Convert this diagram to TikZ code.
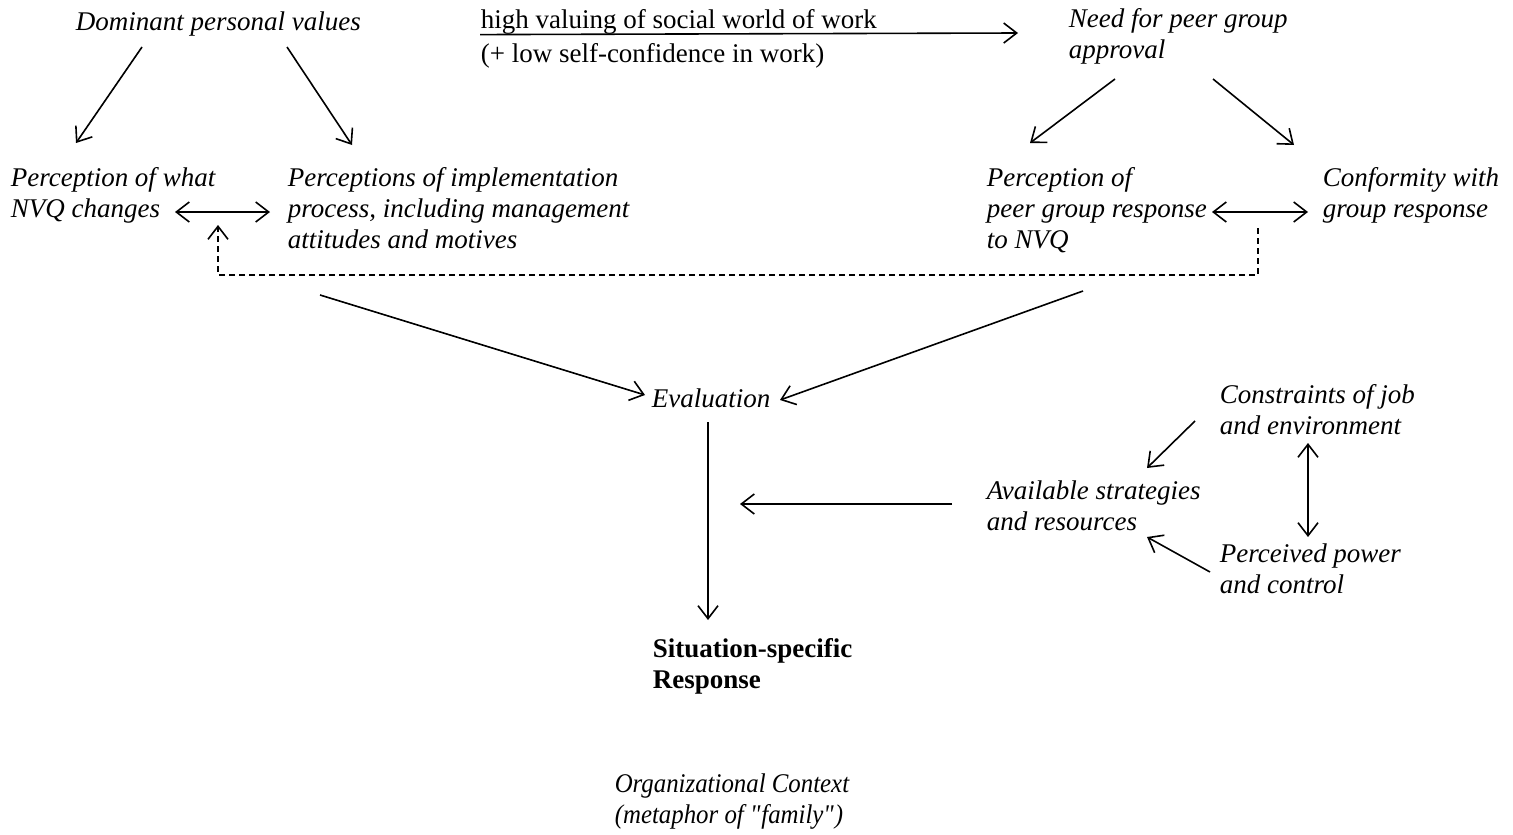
\documentclass[tikz,border=0pt]{standalone}
\usepackage{fontspec}
\setmainfont{Liberation Serif}
\usetikzlibrary{arrows.meta,calc}

\tikzset{every picture/.style={line width=1.6pt}}

\begin{document}
\begin{tikzpicture}[x=1pt,y=1pt,yscale=-1,
  >={Straight Barb[length=13pt,width=20pt]},
  txt/.style={anchor=north west,inner sep=0pt,align=left,
    font=\fontsize{27}{31}\selectfont,execute at begin node=\strut},
  itxt/.style={txt,font=\fontsize{27}{31}\selectfont\itshape},
  btxt/.style={txt,font=\fontsize{27}{31}\selectfont\bfseries},
  dashline/.style={dash pattern=on 6pt off 4pt}]
\useasboundingbox (0,0) rectangle (1513,835);
% Text Node top row
\node[itxt] (dom) at (75,8) {Dominant personal values};
\node[txt] (hv) at (480,6) {high valuing of social world of work};
\node[txt] (lc) at (480,40) {(+ low self-confidence in work)};
\node[itxt] (need) at (1068,8) {Need for peer group\\approval};
% Text Node perceptions
\node[itxt] (what) at (10,167) {Perception of what\\NVQ changes};
\node[itxt] (impl) at (287,167) {Perceptions of implementation\\process, including management\\attitudes and motives};
\node[itxt] (peer) at (986,167) {Perception of\\peer group response\\to NVQ};
\node[itxt] (conf) at (1322,167) {Conformity with\\group response};
% Text Node middle
\node[itxt] (eval) at (651,385) {Evaluation};
\node[itxt] (cons) at (1219,384) {Constraints of job\\and environment};
\node[itxt] (avail) at (986,480) {Available strategies\\and resources};
\node[itxt] (power) at (1219,543) {Perceived power\\and control};
% Text Node bottom
\node[btxt] (resp) at (652,638) {Situation-specific\\Response};
\node[itxt] (org) at (614,773) {\addfontfeature{FakeStretch=0.92}Organizational Context\\
  \addfontfeature{FakeStretch=0.92}(metaphor of \textquotedbl family\textquotedbl)};

%Arrow underlining the social world of work
\draw[->] ($(hv.south west)+(0,-4)$) -- ($(need.north west)+(-50,25)$);
%Arrows from values
\draw[->] ($(dom.north west)+(67,39)$) -- ($(what.north west)+(66,-24)$);
\draw[->] ($(dom.north west)+(212,39)$) -- ($(impl.north west)+(65,-22)$);
%Arrows from peer group approval
\draw[->] ($(need.north west)+(47,71)$) -- ($(peer.north west)+(44,-24)$);
\draw[->] ($(need.north west)+(145,71)$) -- ($(conf.north west)+(-28,-22)$);
%Up Down Arrows
\draw[<->] ($(what.north west)+(165,45)$) -- ($(impl.north west)+(-17,45)$);
\draw[<->] ($(peer.north west)+(226,45)$) -- ($(conf.north west)+(-14,45)$);
%Dashed feedback
\draw[dashline,->] ($(peer.north west)+(272,61)$) -- ++(0,47) -| ($(what.north west)+(208,58)$);
%Arrows into evaluation
\draw[->] ($(impl.north west)+(33,128)$) -- ($(eval.north west)+(-6,10)$);
\draw[->] ($(peer.north west)+(97,124)$) -- ($(eval.north west)+(129,15)$);
%Evaluation to response
\draw[->] ($(eval.north west)+(57,37)$) -- ($(resp.north west)+(56,-18)$);
\draw[->] ($(avail.north west)+(-34,24)$) -- ($(avail.north west)+(-246,24)$);
%Constraints and power
\draw[->] ($(cons.north west)+(-24,37)$) -- ($(avail.north west)+(161,-12)$);
\draw[->] ($(power.north west)+(-9,29)$) -- ($(avail.north west)+(161,57)$);
\draw[<->] ($(cons.north west)+(89,59)$) -- ($(power.north west)+(89,-6)$);
\end{tikzpicture}
\end{document}
